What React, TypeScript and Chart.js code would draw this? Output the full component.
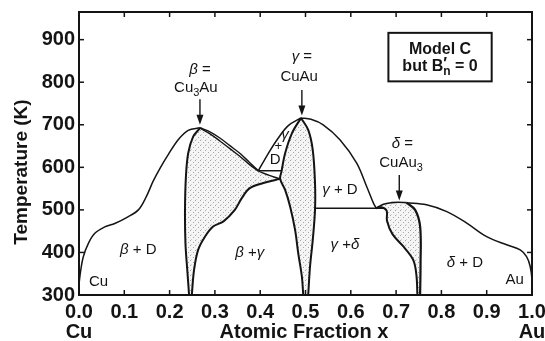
import { useEffect, useRef } from 'react';
import { Chart, registerables } from 'chart.js';

Chart.register(...registerables);

type Pt = [number, number];

// ---------- axes ----------
const X_TICKS = [0, 0.1, 0.2, 0.3, 0.4, 0.5, 0.6, 0.7, 0.8, 0.9, 1.0];
const Y_TICKS = [300, 400, 500, 600, 700, 800, 900];
const X_MIN = 0;
const X_MAX = 1;
const Y_MIN = 300;
const Y_MAX = 965;

// ---------- phase boundaries (x = atomic fraction, y = temperature K) ----------
const outerLeft: Pt[] = [
  [0.0, 325], [0.003, 352], [0.0095, 390], [0.021, 422], [0.035, 445], [0.057, 460],
  [0.079, 468], [0.105, 482], [0.131, 500], [0.148, 530], [0.164, 568], [0.18, 600],
  [0.197, 630], [0.219, 665], [0.241, 687], [0.267, 693],
];
const betaLeft: Pt[] = [
  [0.243, 300], [0.239, 359], [0.235, 421], [0.234, 500], [0.236, 578], [0.241, 633],
  [0.252, 672], [0.267, 692],
];
const betaRight: Pt[] = [
  [0.249, 300], [0.254, 359], [0.263, 406], [0.278, 437], [0.296, 461], [0.319, 473],
  [0.344, 500], [0.359, 527], [0.377, 551], [0.407, 563], [0.444, 573],
];
const betaTopUpper: Pt[] = [
  [0.267, 693], [0.29, 683], [0.311, 669], [0.333, 651], [0.355, 633], [0.376, 612], [0.396, 592],
];
const betaTopLower: Pt[] = [
  [0.267, 692], [0.29, 678], [0.311, 662], [0.333, 644], [0.355, 626], [0.376, 607], [0.396, 591],
];
const betaTail: Pt[] = [[0.396, 591], [0.42, 581], [0.444, 573]];
const dgFloor: Pt[] = [[0.396, 592], [0.447, 592]];
const gammaOuterLeft: Pt[] = [
  [0.396, 592], [0.418, 633], [0.44, 669], [0.462, 698], [0.49, 716],
];
const gammaLeft: Pt[] = [
  [0.49, 716], [0.47, 680], [0.455, 633], [0.447, 590], [0.444, 573], [0.455, 547],
  [0.466, 508], [0.477, 453], [0.484, 398], [0.492, 343], [0.495, 300],
];
const gammaRight: Pt[] = [
  [0.49, 716], [0.506, 688], [0.516, 641], [0.521, 563], [0.521, 500], [0.516, 429],
  [0.51, 367], [0.506, 300],
];
const gammaOuterRight: Pt[] = [
  [0.49, 716], [0.512, 713], [0.539, 700], [0.576, 665], [0.613, 610], [0.635, 555],
  [0.65, 516], [0.656, 504],
];
const gdFloor: Pt[] = [[0.521, 504], [0.672, 504]];
const deltaLeft: Pt[] = [
  [0.747, 300], [0.745, 345], [0.738, 382], [0.716, 414], [0.692, 443], [0.68, 474],
  [0.679, 498], [0.668, 506], [0.656, 504],
];
const deltaTop: Pt[] = [[0.656, 504], [0.672, 513], [0.69, 517], [0.705, 518], [0.723, 517]];
const deltaRight: Pt[] = [
  [0.723, 517], [0.742, 500], [0.753, 461], [0.754, 375], [0.753, 300],
];
const outerRight: Pt[] = [
  [0.723, 517], [0.767, 512], [0.812, 496], [0.856, 469], [0.9, 437], [0.944, 418],
  [0.974, 406], [0.988, 390], [0.996, 367], [1.0, 335], [1.0, 300],
];

// ---------- text annotations ----------
type Part = { t: string; s?: 'n' | 'i' | 'b' | 'sub' | 'bsub' | 'bsup'; noAdv?: boolean };
type Label = { x: number; y: number; parts: Part[]; size?: number };

const regionLabels: Label[] = [
  { x: 0.131, y: 406, parts: [{ t: 'β', s: 'i' }, { t: ' + D' }] },
  { x: 0.043, y: 331, parts: [{ t: 'Cu' }] },
  { x: 0.377, y: 398, parts: [{ t: 'β', s: 'i' }, { t: ' +' }, { t: 'γ', s: 'i' }] },
  { x: 0.433, y: 618, parts: [{ t: 'D' }] },
  { x: 0.44, y: 649, parts: [{ t: '+' }], size: 13 },
  { x: 0.455, y: 676, parts: [{ t: 'γ', s: 'i' }] },
  { x: 0.576, y: 547, parts: [{ t: 'γ', s: 'i' }, { t: ' + D' }] },
  { x: 0.587, y: 418, parts: [{ t: 'γ', s: 'i' }, { t: ' +' }, { t: 'δ', s: 'i' }] },
  { x: 0.852, y: 375, parts: [{ t: 'δ', s: 'i' }, { t: ' + D' }] },
  { x: 0.962, y: 335, parts: [{ t: 'Au' }] },
  { x: 0.267, y: 829, parts: [{ t: 'β', s: 'i' }, { t: ' =' }] },
  { x: 0.258, y: 786, parts: [{ t: 'Cu' }, { t: '3', s: 'sub' }, { t: 'Au' }] },
  { x: 0.492, y: 859, parts: [{ t: 'γ', s: 'i' }, { t: ' =' }] },
  { x: 0.486, y: 812, parts: [{ t: 'CuAu' }] },
  { x: 0.714, y: 655, parts: [{ t: 'δ', s: 'i' }, { t: ' =' }] },
  { x: 0.711, y: 610, parts: [{ t: 'CuAu' }, { t: '3', s: 'sub' }] },
  { x: 0.797, y: 876, parts: [{ t: 'Model C', s: 'b' }] },
  {
    x: 0.797, y: 837,
    parts: [{ t: 'but B', s: 'b' }, { t: '′', s: 'bsup', noAdv: true }, { t: 'n', s: 'bsub' }, { t: ' = 0', s: 'b' }],
  },
];
// arrows: [x, T top, T tip]
const arrows: [number, number, number][] = [
  [0.267, 760, 700],
  [0.492, 782, 722],
  [0.707, 582, 522],
];
const modelBox = { x0: 0.683, x1: 0.911, y0: 916, y1: 802 };

const FAMILY = '"Liberation Sans", Arial, Helvetica, sans-serif';
const INK = '#141414';

const xy = (a: Pt[]) => a.map(([x, y]) => ({ x, y }));
const rev = (a: Pt[]) => a.slice().reverse();

function fontFor(p: Part, size: number) {
  switch (p.s) {
    case 'i': return `italic ${size}px ${FAMILY}`;
    case 'b': return `bold ${size}px ${FAMILY}`;
    case 'sub': return `${Math.round(size * 0.72)}px ${FAMILY}`;
    case 'bsub': return `bold ${Math.round(size * 0.72)}px ${FAMILY}`;
    case 'bsup': return `bold ${size}px ${FAMILY}`;
    default: return `${size}px ${FAMILY}`;
  }
}

function drawParts(ctx: CanvasRenderingContext2D, parts: Part[], cx: number, cy: number, size: number) {
  const widths = parts.map((p) => {
    ctx.font = fontFor(p, size);
    return p.noAdv ? 0 : ctx.measureText(p.t).width;
  });
  const total = widths.reduce((a, b) => a + b, 0);
  let x = cx - total / 2;
  ctx.textAlign = 'left';
  ctx.textBaseline = 'middle';
  parts.forEach((p, i) => {
    ctx.font = fontFor(p, size);
    let dy = 0;
    if (p.s === 'sub' || p.s === 'bsub') dy = size * 0.3;
    if (p.s === 'bsup') dy = -size * 0.1;
    ctx.fillText(p.t, x, cy + dy);
    x += widths[i];
  });
}

const decor = {
  id: 'decor',
  afterDraw(chart: any) {
    const { ctx, chartArea: a, scales } = chart;
    const sx = scales.x;
    const sy = scales.y;
    ctx.save();
    ctx.strokeStyle = INK;
    ctx.fillStyle = INK;
    // frame
    ctx.lineWidth = 2;
    ctx.strokeRect(a.left, a.top, a.right - a.left, a.bottom - a.top);
    // inward ticks
    ctx.lineWidth = 1.5;
    const seg = (x1: number, y1: number, x2: number, y2: number) => {
      ctx.beginPath(); ctx.moveTo(x1, y1); ctx.lineTo(x2, y2); ctx.stroke();
    };
    X_TICKS.forEach((v) => {
      const px = sx.getPixelForValue(v);
      seg(px, a.bottom, px, a.bottom - 5);
      seg(px, a.top, px, a.top + 5);
    });
    Y_TICKS.forEach((v) => {
      const py = sy.getPixelForValue(v);
      seg(a.left, py, a.left + 5, py);
      seg(a.right, py, a.right - 5, py);
    });
    // axis titles
    ctx.font = `bold 19px ${FAMILY}`;
    ctx.textAlign = 'center';
    ctx.textBaseline = 'alphabetic';
    ctx.save();
    ctx.translate(27, 172);
    ctx.rotate(-Math.PI / 2);
    ctx.fillText('Temperature (K)', 0, 0);
    ctx.restore();
    ctx.font = `bold 20px ${FAMILY}`;
    ctx.fillText('Atomic Fraction x', 304, 338);
    ctx.fillText('Cu', sx.getPixelForValue(0), 338);
    ctx.fillText('Au', sx.getPixelForValue(1), 338);
    // annotations
    regionLabels.forEach((l) => {
      drawParts(ctx, l.parts, sx.getPixelForValue(l.x), sy.getPixelForValue(l.y), l.size ?? (l.parts[0].s === 'b' ? 16 : 15));
    });
    arrows.forEach(([x, t0, t1]) => {
      const px = sx.getPixelForValue(x);
      const y0 = sy.getPixelForValue(t0);
      const y1 = sy.getPixelForValue(t1);
      ctx.lineWidth = 1.4;
      seg(px, y0, px, y1 - 6);
      ctx.beginPath();
      ctx.moveTo(px - 3.5, y1 - 10);
      ctx.lineTo(px + 3.5, y1 - 10);
      ctx.lineTo(px, y1);
      ctx.closePath();
      ctx.fill();
    });
    // model box
    const bx0 = sx.getPixelForValue(modelBox.x0);
    const bx1 = sx.getPixelForValue(modelBox.x1);
    const by0 = sy.getPixelForValue(modelBox.y0);
    const by1 = sy.getPixelForValue(modelBox.y1);
    ctx.lineWidth = 2;
    ctx.strokeRect(bx0, by0, bx1 - bx0, by1 - by0);
    ctx.restore();
  },
};

export default function App() {
  const ref = useRef<HTMLCanvasElement | null>(null);
  useEffect(() => {
    const canvas = ref.current!;
    const c2d = canvas.getContext('2d')!;
    const pc = document.createElement('canvas');
    pc.width = 5;
    pc.height = 5;
    const g = pc.getContext('2d')!;
    g.fillStyle = '#f5f5f5';
    g.fillRect(0, 0, 5, 5);
    g.fillStyle = '#a6a6a6';
    g.fillRect(0, 0, 1, 1);
    g.fillRect(3, 2, 1, 1);
    g.fillStyle = '#d0d0d0';
    g.fillRect(1, 4, 1, 1);
    const pattern = c2d.createPattern(pc, 'repeat')!;

    const fillSet = (pts: Pt[]) => ({
      data: xy(pts),
      borderWidth: 0,
      borderColor: 'rgba(0,0,0,0)',
      backgroundColor: pattern,
      fill: 'shape' as const,
      order: 10,
    });
    const lineSet = (pts: Pt[], w = 1.6) => ({
      data: xy(pts),
      borderWidth: w,
      borderColor: INK,
      fill: false,
      order: 1,
    });

    const betaPoly: Pt[] = [...betaLeft, ...betaTopLower.slice(1), ...betaTail.slice(1), ...rev(betaRight).slice(1), betaLeft[0]];
    const gammaPoly: Pt[] = [...rev(gammaLeft), ...gammaRight.slice(1), gammaLeft[gammaLeft.length - 1]];
    const deltaPoly: Pt[] = [...deltaLeft, ...deltaTop.slice(1), ...deltaRight.slice(1), deltaLeft[0]];

    const chart = new Chart(canvas, {
      type: 'line',
      data: {
        datasets: [
          fillSet(betaPoly),
          fillSet(gammaPoly),
          fillSet(deltaPoly),
          lineSet(outerLeft, 1.5),
          lineSet(betaLeft, 2),
          lineSet(betaRight, 2),
          lineSet(betaTopUpper, 1.4),
          lineSet(betaTopLower, 1.4),
          lineSet(betaTail, 1.5),
          lineSet(dgFloor, 1.5),
          lineSet(gammaOuterLeft, 1.5),
          lineSet(gammaLeft, 2),
          lineSet(gammaRight, 2),
          lineSet(gammaOuterRight, 1.5),
          lineSet(gdFloor, 1.5),
          lineSet(deltaLeft, 2),
          lineSet(deltaTop, 1.6),
          lineSet(deltaRight, 2.2),
          lineSet(outerRight, 1.5),
        ] as any,
      },
      options: {
        animation: false,
        responsive: false,
        devicePixelRatio: 1,
        events: [],
        layout: { padding: { left: 0, right: 13, top: 12, bottom: 0 } },
        plugins: {
          legend: { display: false },
          tooltip: { enabled: false },
          filler: { propagate: false },
        },
        elements: {
          point: { radius: 0, hoverRadius: 0 },
          line: { tension: 0.35, capBezierPoints: true },
        },
        scales: {
          x: {
            type: 'linear',
            min: X_MIN,
            max: X_MAX,
            afterBuildTicks: (s: any) => { s.ticks = X_TICKS.map((v) => ({ value: v })); },
            afterFit: (s: any) => { s.height = 46; s.paddingLeft = 0; s.paddingRight = 0; },
            grid: { display: false, drawTicks: false },
            border: { display: false },
            ticks: {
              padding: 5,
              color: INK,
              autoSkip: false,
              maxRotation: 0,
              font: { family: FAMILY, size: 20, weight: 'bold' },
              callback: (v: any) => Number(v).toFixed(1),
            },
          },
          y: {
            type: 'linear',
            min: Y_MIN,
            max: Y_MAX,
            afterBuildTicks: (s: any) => { s.ticks = Y_TICKS.map((v) => ({ value: v })); },
            afterFit: (s: any) => { s.width = 79; s.paddingTop = 0; s.paddingBottom = 0; },
            grid: { display: false, drawTicks: false },
            border: { display: false },
            ticks: {
              padding: 4,
              color: INK,
              font: { family: FAMILY, size: 20, weight: 'bold' },
              callback: (v: any) => String(v),
            },
          },
        },
      } as any,
      plugins: [decor],
    });
    return () => chart.destroy();
  }, []);

  return (
    <div style={{ position: 'absolute', left: 0, top: 0, width: 545, height: 341, background: '#fff' }}>
      <canvas ref={ref} width={545} height={341} style={{ display: 'block', width: 545, height: 341 }} />
    </div>
  );
}
